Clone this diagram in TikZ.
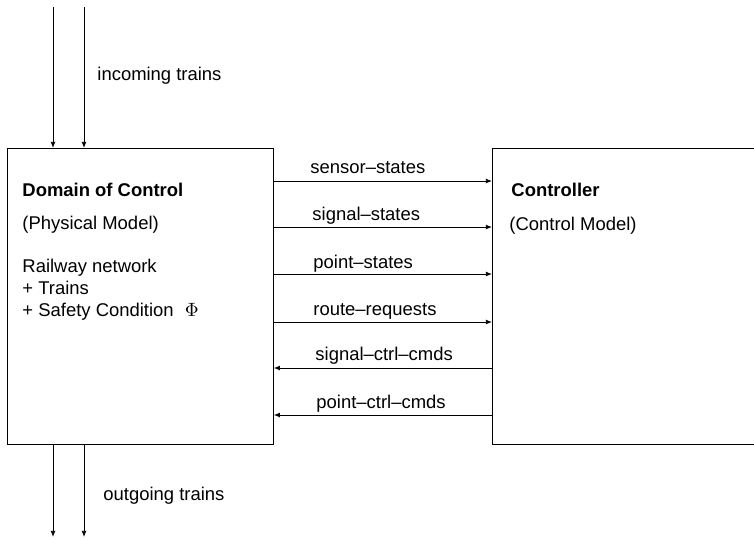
\documentclass[tikz,border=0pt]{standalone}
\usepackage{fontspec}
\setmainfont{Liberation Sans}
\usetikzlibrary{arrows.meta}

\tikzset{
  block/.style={draw, anchor=north west, inner sep=0pt},
  txt/.style={anchor=base west, inner sep=0pt, font=\fontsize{10.5}{12}\selectfont},
  flow/.style={-{Latex[length=3.5pt,width=2.8pt]}}
}

\begin{document}
\begin{tikzpicture}[x=0.02cm, y=-0.02cm, line width=0.5pt]
      \useasboundingbox (0,0) rectangle (754,539);

      \node[block, minimum width=5.32cm, minimum height=5.92cm] (dom) at (7,148) {};
      \node[block, minimum width=5.5cm, minimum height=5.92cm] (ctl) at (492,148) {};

      \node[txt, font=\fontsize{10.5}{12}\selectfont\bfseries] (domname) at (22,196) {Domain of Control};
      \node[txt] (physmodel) at (22,229) {(Physical Model)};
      \node[txt] (railnet) at (22,272) {Railway network};
      \node[txt] (trains) at (22,294) {+ Trains};
      \node[txt] (safety) at (22,316) {+ Safety Condition\hspace{0.6em}$\Phi$};

      \node[txt, font=\fontsize{10.5}{12}\selectfont\bfseries] (ctlname) at (511,196) {Controller};
      \node[txt] (ctlmodel) at (509,230) {(Control Model)};

      % trains in and out
      \coordinate (inA) at (53,7);
      \coordinate (inB) at (84,7);
      \coordinate (outA) at (53,537);
      \coordinate (outB) at (84,537);
      \draw[flow] (inA) -- (inA |- dom.north);
      \draw[flow] (inB) -- (inB |- dom.north);
      \draw[flow] (outA |- dom.south) -- (outA);
      \draw[flow] (outB |- dom.south) -- (outB);
      \node[txt] (incoming) at (97,80) {incoming trains};
      \node[txt] (outgoing) at (103,500) {outgoing trains};

      % messages between the models
      \coordinate (m1) at (0,181);
      \coordinate (m2) at (0,227);
      \coordinate (m3) at (0,274);
      \coordinate (m4) at (0,322);
      \coordinate (m5) at (0,368);
      \coordinate (m6) at (0,415);
      \draw[flow] (dom.east |- m1) -- (ctl.west |- m1);
      \draw[flow] (dom.east |- m2) -- (ctl.west |- m2);
      \draw[flow] (dom.east |- m3) -- (ctl.west |- m3);
      \draw[flow] (dom.east |- m4) -- (ctl.west |- m4);
      \draw[flow] (ctl.west |- m5) -- (dom.east |- m5);
      \draw[flow] (ctl.west |- m6) -- (dom.east |- m6);
      \node[txt] (sensor) at (310,173) {sensor--states};
      \node[txt] (signal) at (312,220) {signal--states};
      \node[txt] (point) at (313,268) {point--states};
      \node[txt] (route) at (313,315) {route--requests};
      \node[txt] (sigctrl) at (315,360) {signal--ctrl--cmds};
      \node[txt] (ptctrl) at (316,408) {point--ctrl--cmds};
    \end{tikzpicture}
\end{document}
